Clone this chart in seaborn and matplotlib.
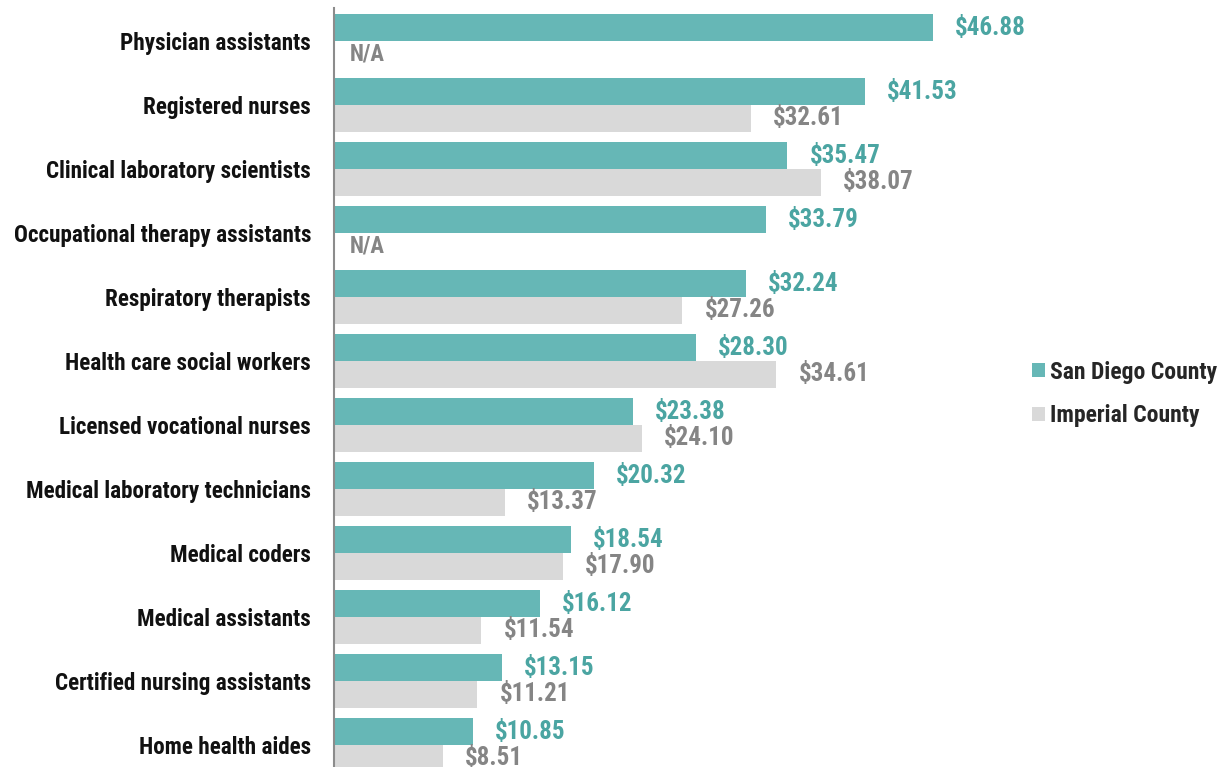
import numpy as np
import pandas as pd
import matplotlib
matplotlib.use("Agg")
import matplotlib.pyplot as plt
from matplotlib import font_manager
from matplotlib.patches import Patch
import seaborn as sns

categories = [
    "Physician assistants", "Registered nurses", "Clinical laboratory scientists",
    "Occupational therapy assistants", "Respiratory therapists",
    "Health care social workers", "Licensed vocational nurses",
    "Medical laboratory technicians", "Medical coders", "Medical assistants",
    "Certified nursing assistants", "Home health aides",
]
san_diego = [46.88, 41.53, 35.47, 33.79, 32.24, 28.30, 23.38, 20.32, 18.54, 16.12, 13.15, 10.85]
imperial = [np.nan, 32.61, 38.07, np.nan, 27.26, 34.61, 24.10, 13.37, 17.90, 11.54, 11.21, 8.51]
series_names = ["San Diego County", "Imperial County"]

TEAL = "#66b7b6"
GRAY = "#d9d9d9"
TEAL_TXT = "#4ba5a2"
GRAY_TXT = "#858585"

sns.set_theme(style="white")

installed = {f.name for f in font_manager.fontManager.ttflist}
fam = None
stretch = "normal"
for cand in ["Roboto Condensed", "Liberation Sans Narrow", "Arial Narrow"]:
    if cand in installed:
        fam = cand
        break
if fam is None:
    fam = "DejaVu Sans"
    stretch = "condensed"
plt.rcParams["font.family"] = [fam, "DejaVu Sans"]
plt.rcParams["font.stretch"] = stretch

rows = []
for c, a, b in zip(categories, san_diego, imperial):
    rows.append({"Occupation": c, "County": series_names[0], "Wage": 0.0 if np.isnan(a) else a})
    rows.append({"Occupation": c, "County": series_names[1], "Wage": 0.0 if np.isnan(b) else b})
df = pd.DataFrame(rows)

fig = plt.figure(figsize=(12.3, 7.67), dpi=100)
ax = fig.add_axes([334 / 1230, 0.0, 680 / 1230, 759 / 767])

sns.barplot(data=df, y="Occupation", x="Wage", hue="County", order=categories,
            hue_order=series_names, palette=[TEAL, GRAY], width=0.84,
            orient="h", ax=ax, legend=False, linewidth=0, saturation=1)

ax.set_xlim(0, 680 / 12.78)
ax.set_ylim(11 + 22 / 64, -33 / 64)
ax.set_xlabel("")
ax.set_ylabel("")
ax.set_xticks([])
ax.tick_params(axis="y", length=0, pad=16.5)
for lab in ax.get_yticklabels():
    lab.set_fontweight("bold")
    lab.set_fontsize(16.7)
    lab.set_color("#111111")
for s in ["top", "right", "bottom"]:
    ax.spines[s].set_visible(False)
ax.spines["left"].set_color("#8c8c8c")
ax.spines["left"].set_linewidth(1.5)

for cont, vals, col in zip(ax.containers, [san_diego, imperial], [TEAL_TXT, GRAY_TXT]):
    for bar, v in zip(cont, vals):
        y = bar.get_y() + bar.get_height() / 2
        if np.isnan(v):
            ax.annotate("N/A", xy=(0, y), xytext=(11, 0), textcoords="offset points",
                        ha="left", va="center", fontsize=16.4, fontweight="bold", color=GRAY_TXT)
        else:
            ax.annotate(f"${v:.2f}", xy=(bar.get_width(), y), xytext=(16, 0),
                        textcoords="offset points", ha="left", va="center",
                        fontsize=18, fontweight="bold", color=col)

handles = [Patch(facecolor=TEAL, edgecolor="none"), Patch(facecolor=GRAY, edgecolor="none")]
fig.legend(handles, series_names, loc="center left", bbox_to_anchor=(1011 / 1230, 1 - 394 / 767),
           frameon=False, handlelength=0.55, handleheight=0.55, handletextpad=0.2,
           labelspacing=0.88, prop={"weight": "bold", "size": 17})

fig.savefig("out.png", dpi=100)
